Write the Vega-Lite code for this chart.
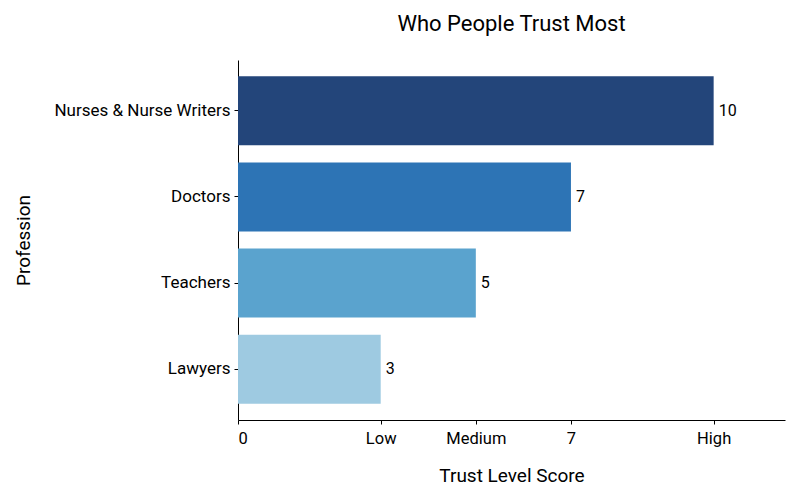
{
  "$schema": "https://vega.github.io/schema/vega-lite/v6.json",
  "autosize": "none",
  "padding": {"left": 238, "top": 60, "right": 15, "bottom": 80},
  "width": 547,
  "height": 360,
  "title": {
    "text": "Who People Trust Most",
    "fontSize": 22,
    "font": "Roboto",
    "fontWeight": "normal",
    "color": "#000000",
    "anchor": "middle",
    "offset": 24
  },
  "data": {
    "values": [
      {"profession": "Nurses & Nurse Writers", "score": 10},
      {"profession": "Doctors", "score": 7},
      {"profession": "Teachers", "score": 5},
      {"profession": "Lawyers", "score": 3}
    ]
  },
  "encoding": {
    "y": {
      "field": "profession",
      "type": "nominal",
      "sort": null,
      "title": "Profession",
      "scale": {"paddingInner": 0.2, "paddingOuter": 0.19},
      "axis": {
        "titleFontSize": 19,
        "titleFontWeight": "normal",
        "titlePadding": 20,
        "labelFontSize": 17,
        "labelPadding": 4,
        "tickSize": 4
      }
    }
  },
  "layer": [
    {
      "mark": {"type": "bar"},
      "encoding": {
        "x": {
          "field": "score",
          "type": "quantitative",
          "title": "Trust Level Score",
          "scale": {"domain": [0, 11.5], "nice": false},
          "axis": {
            "values": [0, 3, 5, 7, 10],
            "labelExpr": "datum.value == 3 ? 'Low' : datum.value == 5 ? 'Medium' : datum.value == 10 ? 'High' : datum.label",
            "grid": false,
            "titleFontSize": 19,
            "titleFontWeight": "normal",
            "titlePadding": 20,
            "labelFontSize": 16.5,
            "labelPadding": 6,
            "tickSize": 4
          }
        },
        "color": {
          "field": "profession",
          "type": "nominal",
          "legend": null,
          "scale": {
            "domain": ["Nurses & Nurse Writers", "Doctors", "Teachers", "Lawyers"],
            "range": ["#23457a", "#2d74b5", "#5aa3ce", "#9ecae1"]
          }
        }
      }
    },
    {
      "mark": {"type": "text", "align": "left", "baseline": "middle", "dx": 5, "fontSize": 16, "color": "#000000"},
      "encoding": {
        "x": {"field": "score", "type": "quantitative"},
        "text": {"field": "score", "type": "quantitative"}
      }
    }
  ],
  "config": {
    "font": "Roboto",
    "view": {"stroke": null},
    "axis": {
      "domainColor": "#000000",
      "tickColor": "#000000",
      "labelColor": "#000000",
      "titleColor": "#000000",
      "grid": false
    }
  }
}
